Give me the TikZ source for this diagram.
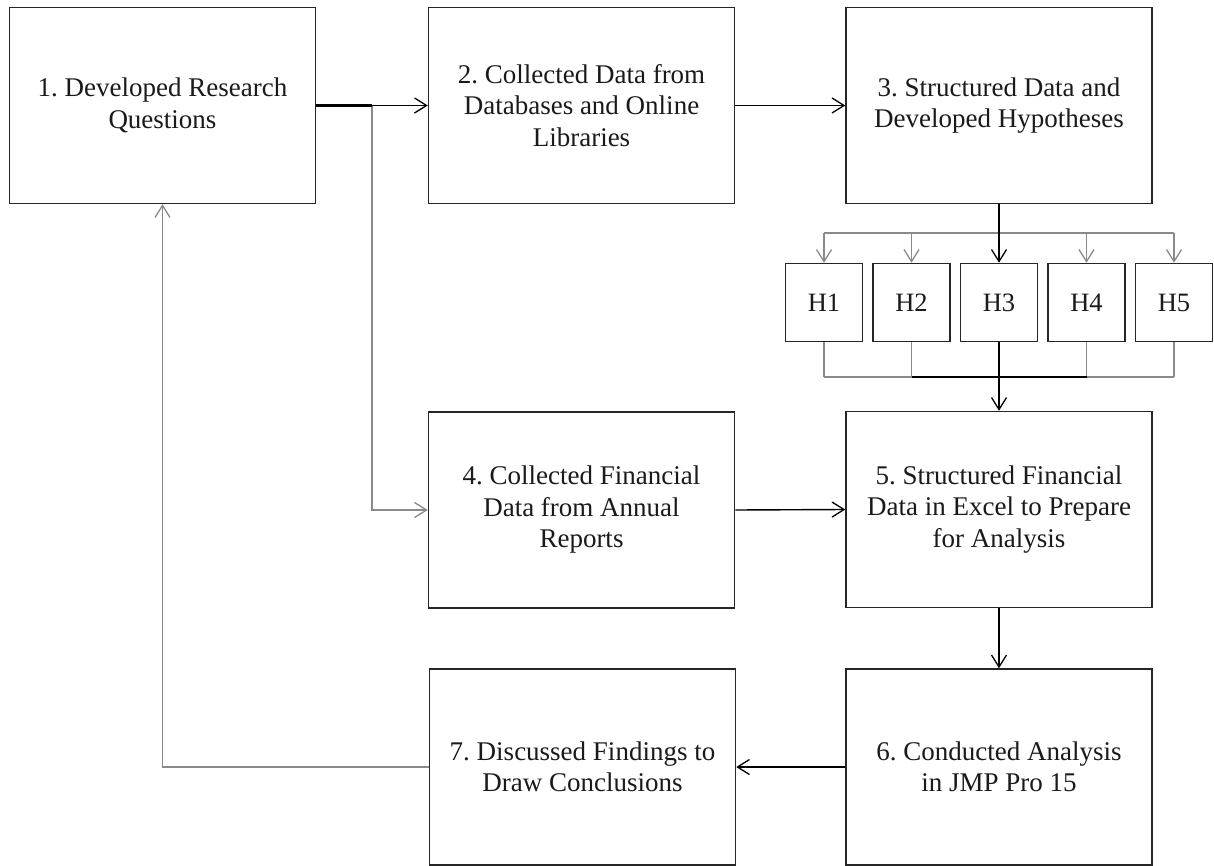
\documentclass[tikz,border=0pt]{standalone}
\usepackage{fontspec}
\setmainfont{Liberation Serif}
\usetikzlibrary{arrows.meta}
\definecolor{boxline}{HTML}{262626}
\definecolor{txt}{HTML}{1A1A1A}
\definecolor{grayline}{HTML}{8A8A8A}
\frenchspacing
\begin{document}
\begin{tikzpicture}[x=1pt,y=-1pt,
  stepbox/.style={draw=boxline,line width=1.5pt,rectangle,inner sep=2pt,
    minimum width=306pt,minimum height=196pt,align=center,text=txt,
    font=\fontsize{27}{31.5}\selectfont\frenchspacing},
  hbox/.style={draw=boxline,line width=1.5pt,rectangle,inner sep=0pt,
    minimum width=77pt,minimum height=78pt,text=txt,
    font=\fontsize{26.5}{31}\selectfont},
  tip/.style={-{Straight Barb[length=12pt,width=15pt,line width=1.3pt]}},
  blk/.style={draw=black,line width=1.4pt},
  blkthick/.style={draw=black,line width=2.4pt},
  gry/.style={draw=grayline,line width=1.4pt}]
\useasboundingbox (0,0) rectangle (1214,866);
\fill[white] (0,0) rectangle (1214,866);
% main boxes
\node[stepbox] (b1) at (162.5,105.5) {1. Developed Research\\Questions};
\node[stepbox] (b2) at (581.5,105.5) {2. Collected Data from\\Databases and Online\\Libraries};
\node[stepbox] (b3) at (999,105.5) {3. Structured Data and\\Developed Hypotheses};
\node[stepbox] (b4) at (581.5,510) {4. Collected Financial\\Data from Annual\\Reports};
\node[stepbox] (b5) at (999,509.5) {5. Structured Financial\\Data in Excel to Prepare\\for Analysis};
\node[stepbox] (b6) at (999,767) {6. Conducted Analysis\\in JMP Pro 15};
\node[stepbox] (b7) at (582.5,767) {7. Discussed Findings to\\Draw Conclusions};
% hypothesis boxes
\node[hbox] (h1) at (824,302.5) {H1};
\node[hbox] (h2) at (911.5,302.5) {H2};
\node[hbox] (h3) at (999,302.5) {H3};
\node[hbox] (h4) at (1086.5,302.5) {H4};
\node[hbox] (h5) at (1174,302.5) {H5};
% junction coordinates
\coordinate (j1) at (372,105.5);
\coordinate (d) at (999,233);
\coordinate (c) at (999,377);
% 1 -> 2 and branch to 4
\draw[gry,tip] (j1) |- (b4.west);
\draw[blkthick] (b1.east) -- (j1);
\draw[blk,tip] (j1) -- (b2.west);
% 2 -> 3
\draw[blk,tip] (b2.east) -- (b3.west);
% 3 -> hypotheses
\draw[gry] (h1.north |- d) -- (h5.north |- d);
\foreach \h in {h1,h2,h4,h5}{\draw[gry,tip] (\h.north |- d) -- (\h.north);}
\draw[blkthick,tip] (b3.south) -- (h3.north);
% hypotheses -> 5
\foreach \h in {h1,h2,h4,h5}{\draw[gry] (\h.south) -- (\h.south |- c);}
\draw[gry] (h1.south |- c) -- (h5.south |- c);
\draw[blk] (h2.south |- c) -- (h4.south |- c);
\draw[blkthick] (h3.south) -- (c);
\draw[blkthick,tip] (c) -- (b5.north);
% 4 -> 5, 5 -> 6, 6 -> 7
\draw[blk,tip] (b4.east) -- (b5.west);
\draw[blk,tip] (b5.south) -- (b6.north);
\draw[blk,tip] (b6.west) -- (b7.east);
% 7 -> 1 feedback
\draw[gry,tip] (b7.west) -| (b1.south);
\end{tikzpicture}
\end{document}
